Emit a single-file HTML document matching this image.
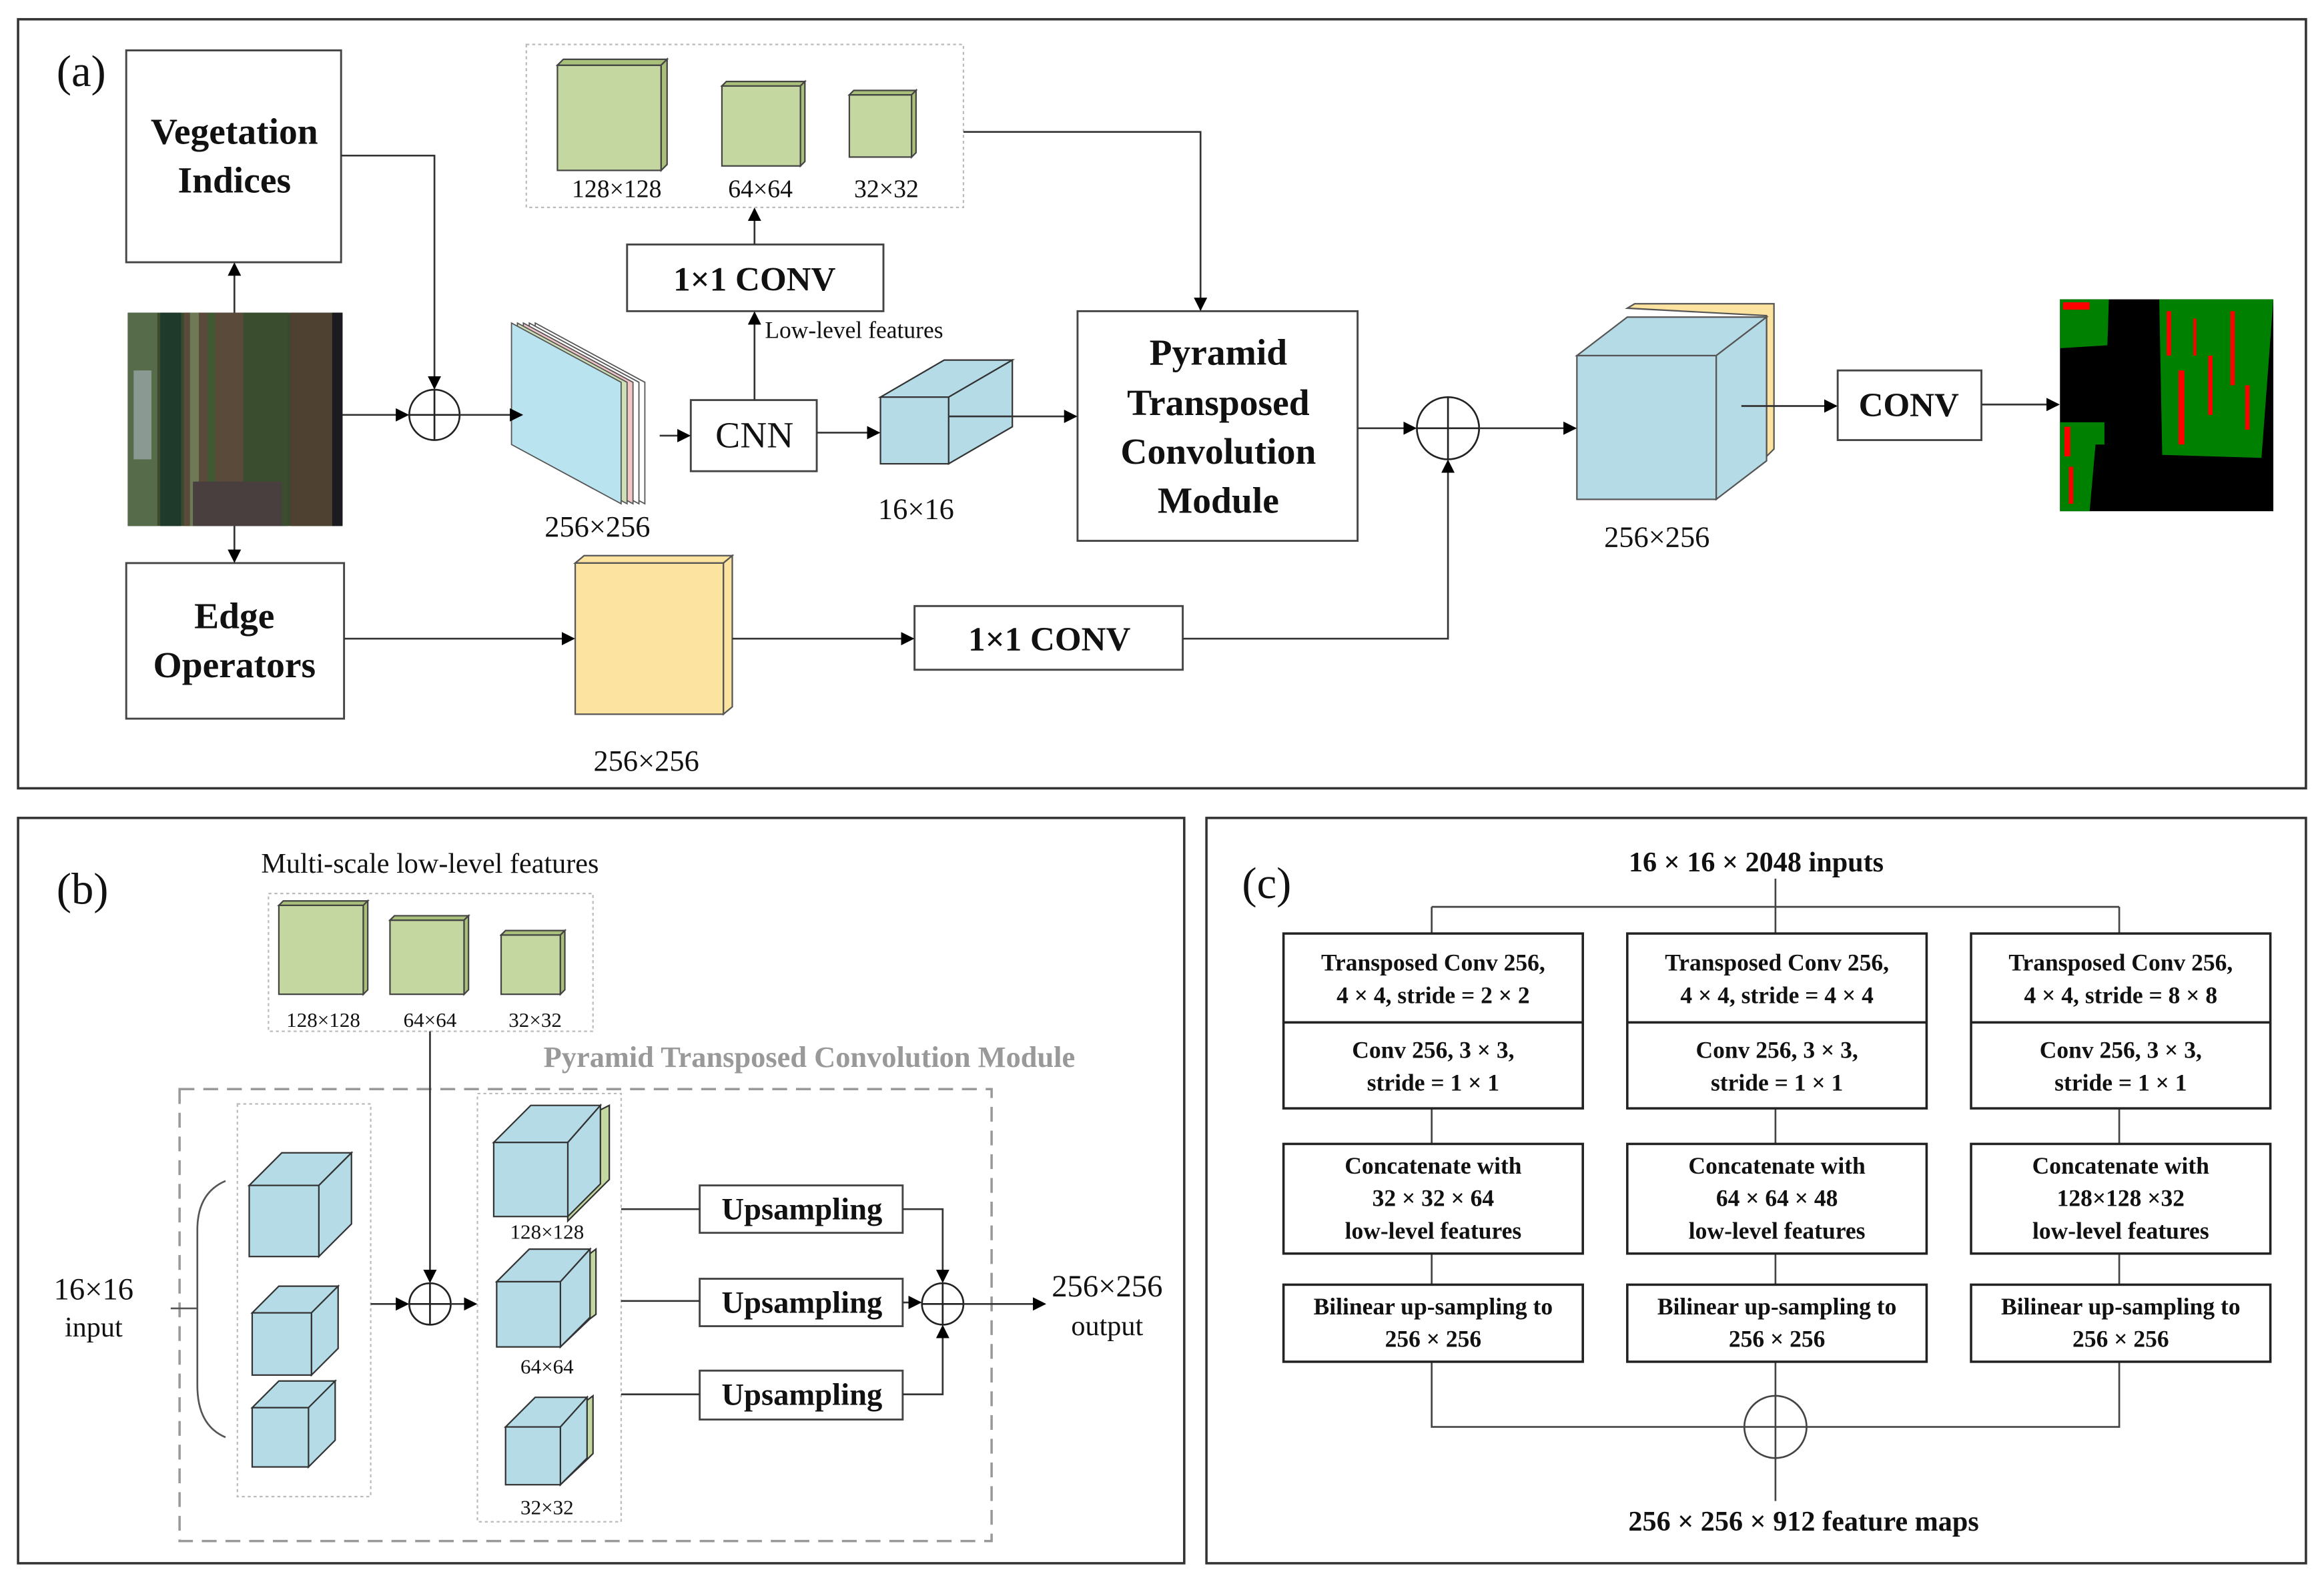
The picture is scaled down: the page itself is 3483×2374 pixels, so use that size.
<!DOCTYPE html>
<html><head><meta charset="utf-8"><style>
html,body{margin:0;padding:0;background:#fff}
svg{display:block}
text{font-family:"Liberation Serif",serif;fill:#111}
.b{font-weight:bold}
</style></head><body>
<svg width="3483" height="2374" viewBox="0 0 1568 1069" xmlns="http://www.w3.org/2000/svg">
<defs>
<marker id="ar" viewBox="0 0 10 10" refX="9" refY="5" markerWidth="9" markerHeight="9" markerUnits="userSpaceOnUse" orient="auto"><path d="M0,0 L10,5 L0,10 z" fill="#000"/></marker>
</defs>
<rect width="1568" height="1069" fill="#fff"/>
<g fill="none" stroke="#333" stroke-width="1.6">
<rect x="12" y="13" width="1544" height="519"/>
<rect x="12" y="552" width="787" height="503"/>
<rect x="814" y="552" width="742" height="503"/>
</g>

<!-- ===== (a) ===== -->
<text x="38" y="58" font-size="30">(a)</text>
<g fill="#fff" stroke="#444" stroke-width="1.3">
<rect x="85" y="34" width="145" height="143"/>
<rect x="85" y="380" width="147" height="105"/>
<rect x="423" y="165" width="173" height="45"/>
<rect x="466" y="270" width="85" height="48"/>
<rect x="727" y="210" width="189" height="155"/>
<rect x="1240" y="250" width="97" height="47"/>
<rect x="617" y="409" width="181" height="43"/>
</g>
<text class="b" x="158" y="97" font-size="25" text-anchor="middle">Vegetation</text>
<text class="b" x="158" y="130" font-size="25" text-anchor="middle">Indices</text>
<text class="b" x="158" y="424" font-size="25" text-anchor="middle">Edge</text>
<text class="b" x="158" y="457" font-size="25" text-anchor="middle">Operators</text>
<text class="b" x="509" y="196" font-size="23" text-anchor="middle">1×1  CONV</text>
<text x="509" y="302" font-size="25" text-anchor="middle">CNN</text>
<text class="b" x="822" y="246" font-size="25" text-anchor="middle">Pyramid</text>
<text class="b" x="822" y="280" font-size="25" text-anchor="middle">Transposed</text>
<text class="b" x="822" y="313" font-size="25" text-anchor="middle">Convolution</text>
<text class="b" x="822" y="346" font-size="25" text-anchor="middle">Module</text>
<text class="b" x="1288" y="281" font-size="23" text-anchor="middle">CONV</text>
<text class="b" x="708" y="439" font-size="23" text-anchor="middle">1×1  CONV</text>

<!-- input image -->
<rect x="86" y="211" width="145" height="144" fill="#3b4a2c"/>
<rect x="86" y="211" width="20" height="144" fill="#556b4a"/>
<rect x="108" y="211" width="14" height="144" fill="#1f3a2a"/>
<rect x="124" y="211" width="40" height="144" fill="#5a4a3a"/>
<rect x="128" y="211" width="6" height="144" fill="#6e7a55"/>
<rect x="140" y="211" width="5" height="144" fill="#3f5a33"/>
<rect x="164" y="211" width="30" height="144" fill="#3a4d2f"/>
<rect x="196" y="211" width="28" height="144" fill="#4e4132"/>
<rect x="224" y="211" width="7" height="144" fill="#1b1b20"/>
<rect x="90" y="250" width="12" height="60" fill="#8a9a92"/>
<rect x="130" y="325" width="60" height="30" fill="#4a3f3f"/>

<!-- output map -->
<rect x="1390" y="202" width="144" height="143" fill="#000"/>
<polygon points="1390,202 1423,202 1422,233 1390,235" fill="#008000"/>
<polygon points="1390,285 1420,285 1420,300 1414,300 1410,345 1390,345" fill="#008000"/>
<polygon points="1457,202 1534,202 1526,309 1459,307" fill="#008000"/>
<g fill="#f00"><rect x="1392" y="204" width="18" height="5"/><rect x="1393" y="288" width="4" height="20"/><rect x="1396" y="315" width="3" height="25"/><rect x="1470" y="250" width="4" height="50"/><rect x="1490" y="240" width="3" height="40"/><rect x="1505" y="210" width="3" height="50"/><rect x="1515" y="260" width="3" height="30"/><rect x="1480" y="215" width="2" height="25"/><rect x="1462" y="210" width="3" height="30"/></g>

<!-- stacked sheets 256x256 -->
<g stroke="#555" stroke-width="0.8">
<polygon points="361,218 361,300 435,340 435,258" fill="#fff"/>
<polygon points="357,218 357,300 431,340 431,258" fill="#fff"/>
<polygon points="353,218 353,300 427,340 427,258" fill="#f2c6c6"/>
<polygon points="349,218 349,300 423,340 423,258" fill="#cfe0b6"/>
<polygon points="345,218 345,300 419,340 419,258" fill="#b9e3ef"/>
</g>
<text x="403" y="362" font-size="20" text-anchor="middle">256×256</text>

<!-- green cubes (a) -->
<rect x="355" y="30" width="295" height="110" fill="none" stroke="#bbb" stroke-dasharray="2,2"/>
<g stroke="#444" stroke-width="1" fill="#c5d7a0">
<rect x="376" y="44" width="70" height="71"/><polygon points="376,44 380,40 450,40 446,44" fill="#a9c07a"/><polygon points="446,44 450,40 450,111 446,115" fill="#a9c07a"/>
<rect x="487" y="58" width="53" height="54"/><polygon points="487,58 490,55 543,55 540,58" fill="#a9c07a"/><polygon points="540,58 543,55 543,109 540,112" fill="#a9c07a"/>
<rect x="573" y="64" width="42" height="42"/><polygon points="573,64 576,61 618,61 615,64" fill="#a9c07a"/><polygon points="615,64 618,61 618,103 615,106" fill="#a9c07a"/>
</g>
<text x="416" y="133" font-size="17" text-anchor="middle">128×128</text>
<text x="513" y="133" font-size="17" text-anchor="middle">64×64</text>
<text x="598" y="133" font-size="17" text-anchor="middle">32×32</text>
<text x="516" y="228" font-size="16">Low-level features</text>

<!-- 16x16 cube -->
<g stroke="#333" stroke-width="1" fill="#b4dbe6">
<polygon points="594,268 637,243 683,243 640,268"/>
<polygon points="640,268 683,243 683,288 640,313"/>
<rect x="594" y="268" width="46" height="45"/>
</g>
<text x="618" y="350" font-size="20" text-anchor="middle">16×16</text>

<!-- big output cube -->
<g stroke="#555" stroke-width="1">
<polygon points="1098,208 1103,205 1197,205 1197,303 1192,308 1192,213" fill="#fde3a0"/>
<polygon points="1064,240 1098,214 1192,214 1158,240" fill="#b4dbe6"/>
<polygon points="1158,240 1192,214 1192,311 1158,337" fill="#b4dbe6"/>
<rect x="1064" y="240" width="94" height="97" fill="#b4dbe6"/>
</g>
<text x="1118" y="369" font-size="20" text-anchor="middle">256×256</text>

<!-- yellow slab -->
<g stroke="#555" stroke-width="1" fill="#fde3a0">
<polygon points="388,380 394,375 494,375 488,380"/>
<polygon points="488,380 494,375 494,477 488,482"/>
<rect x="388" y="380" width="100" height="102"/>
</g>
<text x="436" y="520" font-size="20" text-anchor="middle">256×256</text>

<!-- circles -->
<g fill="none" stroke="#222" stroke-width="1.2">
<circle cx="293" cy="280" r="17"/><path d="M276,280H310M293,263V297"/>
<circle cx="977" cy="289" r="21"/><path d="M956,289H998M977,268V310"/>
</g>

<!-- connectors (a) -->
<g fill="none" stroke="#333" stroke-width="1.2" marker-end="url(#ar)">
<path d="M158,211V178"/>
<path d="M158,355V379"/>
<path d="M230,105H293V262"/>
<path d="M231,280H275"/>
<path d="M310,280H352"/>
<path d="M445,294H465"/>
<path d="M509,270V211"/>
<path d="M509,165V141"/>
<path d="M650,89H810V209"/>
<path d="M551,292H593"/>
<path d="M640,281H726"/>
<path d="M916,289H955"/>
<path d="M998,289H1063"/>
<path d="M1175,274H1239"/>
<path d="M1337,273H1389"/>
<path d="M232,431H387"/>
<path d="M494,431H616"/>
<path d="M798,431H977V311"/>
</g>

<!-- ===== (b) ===== -->
<text x="38" y="610" font-size="30">(b)</text>
<text x="290" y="589" font-size="19" text-anchor="middle">Multi-scale low-level features</text>
<rect x="181" y="603" width="219" height="93" fill="none" stroke="#bbb" stroke-dasharray="2,2"/>
<g stroke="#444" stroke-width="1" fill="#c5d7a0">
<rect x="188" y="611" width="57" height="60"/><polygon points="188,611 191,608 248,608 245,611" fill="#a9c07a"/><polygon points="245,611 248,608 248,668 245,671" fill="#a9c07a"/>
<rect x="263" y="621" width="50" height="50"/><polygon points="263,621 266,618 316,618 313,621" fill="#a9c07a"/><polygon points="313,621 316,618 316,668 313,671" fill="#a9c07a"/>
<rect x="338" y="631" width="40" height="40"/><polygon points="338,631 341,628 381,628 378,631" fill="#a9c07a"/><polygon points="378,631 381,628 381,668 378,671" fill="#a9c07a"/>
</g>
<text x="218" y="693" font-size="14" text-anchor="middle">128×128</text>
<text x="290" y="693" font-size="14" text-anchor="middle">64×64</text>
<text x="361" y="693" font-size="14" text-anchor="middle">32×32</text>
<text class="b" x="546" y="720" font-size="20" text-anchor="middle" style="fill:#999">Pyramid Transposed Convolution Module</text>
<rect x="121" y="735" width="548" height="305" fill="none" stroke="#999" stroke-width="1.6" stroke-dasharray="10,6"/>
<rect x="160" y="745" width="90" height="265" fill="none" stroke="#bbb" stroke-dasharray="2,2"/>
<rect x="322" y="738" width="97" height="289" fill="none" stroke="#bbb" stroke-dasharray="2,2"/>

<text x="63" y="877" font-size="21" text-anchor="middle">16×16</text>
<text x="63" y="902" font-size="19" text-anchor="middle">input</text>
<path d="M115,883H133M152,797Q133,805 133,830V935Q133,962 152,970" fill="none" stroke="#555" stroke-width="1.2"/>

<g stroke="#333" stroke-width="1" fill="#b4dbe6">
<polygon points="168,800 190,778 237,778 215,800"/><polygon points="215,800 237,778 237,826 215,848"/><rect x="168" y="800" width="47" height="48"/>
<polygon points="170,886 188,868 228,868 210,886"/><polygon points="210,886 228,868 228,910 210,928"/><rect x="170" y="886" width="40" height="42"/>
<polygon points="170,950 188,932 226,932 208,950"/><polygon points="208,950 226,932 226,972 208,990"/><rect x="170" y="950" width="38" height="40"/>
</g>
<g stroke="#333" stroke-width="1">
<polygon points="358,749 405,749 411,746 411,796 405,802 383,824 383,771" fill="#c5d7a0"/>
<polygon points="333,771 358,746 405,746 383,771" fill="#b4dbe6"/><polygon points="383,771 405,746 405,799 383,821" fill="#b4dbe6"/><rect x="333" y="771" width="50" height="50" fill="#b4dbe6"/>
<polygon points="357,846 398,846 402,843 402,887 398,890 378,909 378,865" fill="#c5d7a0"/>
<polygon points="335,865 357,843 398,843 378,865" fill="#b4dbe6"/><polygon points="378,865 398,843 398,889 378,909" fill="#b4dbe6"/><rect x="335" y="865" width="43" height="44" fill="#b4dbe6"/>
<polygon points="361,945 396,945 400,942 400,981 396,985 378,1002 378,963" fill="#c5d7a0"/>
<polygon points="341,963 361,943 396,943 378,963" fill="#b4dbe6"/><polygon points="378,963 396,943 396,984 378,1002" fill="#b4dbe6"/><rect x="341" y="963" width="37" height="39" fill="#b4dbe6"/>
</g>
<text x="369" y="836" font-size="14" text-anchor="middle">128×128</text>
<text x="369" y="927" font-size="14" text-anchor="middle">64×64</text>
<text x="369" y="1022" font-size="14" text-anchor="middle">32×32</text>

<g fill="#fff" stroke="#444" stroke-width="1.3">
<rect x="472" y="800" width="137" height="32"/>
<rect x="472" y="863" width="137" height="32"/>
<rect x="472" y="925" width="137" height="33"/>
</g>
<text class="b" x="541" y="823" font-size="21" text-anchor="middle">Upsampling</text>
<text class="b" x="541" y="886" font-size="21" text-anchor="middle">Upsampling</text>
<text class="b" x="541" y="948" font-size="21" text-anchor="middle">Upsampling</text>
<g fill="none" stroke="#222" stroke-width="1.2">
<circle cx="290" cy="880" r="14"/><path d="M276,880H304M290,866V894"/>
<circle cx="636" cy="880" r="14"/><path d="M622,880H650M636,866V894"/>
</g>
<g fill="none" stroke="#333" stroke-width="1.2">
<path d="M419,816H472M419,878H472M419,941H472"/>
</g>
<g fill="none" stroke="#333" stroke-width="1.2" marker-end="url(#ar)">
<path d="M250,880H275"/>
<path d="M290,696V865"/>
<path d="M304,880H321"/>
<path d="M609,816H636V865"/>
<path d="M609,879H621"/>
<path d="M609,941H636V895"/>
<path d="M650,880H705"/>
</g>
<text x="747" y="875" font-size="21" text-anchor="middle">256×256</text>
<text x="747" y="901" font-size="19" text-anchor="middle">output</text>

<!-- ===== (c) ===== -->
<text x="838" y="606" font-size="30">(c)</text>
<text class="b" x="1185" y="588" font-size="19" text-anchor="middle">16 × 16 × 2048 inputs</text>
<g fill="none" stroke="#444" stroke-width="1.2">
<path d="M1198,593V612M966,612H1430M966,612V630M1198,612V630M1430,612V630"/>
<path d="M966,748V772M1198,748V772M1430,748V772"/>
<path d="M966,846V867M1198,846V867M1430,846V867"/>
<path d="M966,919V963H1430V919M1198,919V1013"/>
<circle cx="1198" cy="963" r="21" fill="#fff"/><path d="M1177,963H1219M1198,942V984"/>
</g>
<g fill="none" stroke="#222" stroke-width="1.6">
<rect x="866" y="630" width="202" height="118"/><path d="M866,690H1068"/>
<rect x="1098" y="630" width="202" height="118"/><path d="M1098,690H1300"/>
<rect x="1330" y="630" width="202" height="118"/><path d="M1330,690H1532"/>
<rect x="866" y="772" width="202" height="74"/>
<rect x="1098" y="772" width="202" height="74"/>
<rect x="1330" y="772" width="202" height="74"/>
<rect x="866" y="867" width="202" height="52"/>
<rect x="1098" y="867" width="202" height="52"/>
<rect x="1330" y="867" width="202" height="52"/>
</g>
<g class="b" font-size="16" text-anchor="middle">
<text x="967" y="655">Transposed Conv 256,</text><text x="967" y="677">4 × 4, stride = 2 × 2</text>
<text x="1199" y="655">Transposed Conv 256,</text><text x="1199" y="677">4 × 4, stride = 4 × 4</text>
<text x="1431" y="655">Transposed Conv 256,</text><text x="1431" y="677">4 × 4, stride = 8 × 8</text>
<text x="967" y="714">Conv 256, 3 × 3,</text><text x="967" y="736">stride = 1 × 1</text>
<text x="1199" y="714">Conv 256, 3 × 3,</text><text x="1199" y="736">stride = 1 × 1</text>
<text x="1431" y="714">Conv 256, 3 × 3,</text><text x="1431" y="736">stride = 1 × 1</text>
<text x="967" y="792">Concatenate with</text><text x="967" y="814">32 × 32 × 64</text><text x="967" y="836">low-level features</text>
<text x="1199" y="792">Concatenate with</text><text x="1199" y="814">64 × 64 × 48</text><text x="1199" y="836">low-level features</text>
<text x="1431" y="792">Concatenate with</text><text x="1431" y="814">128×128 ×32</text><text x="1431" y="836">low-level features</text>
<text x="967" y="887">Bilinear up-sampling to</text><text x="967" y="909">256 × 256</text>
<text x="1199" y="887">Bilinear up-sampling to</text><text x="1199" y="909">256 × 256</text>
<text x="1431" y="887">Bilinear up-sampling to</text><text x="1431" y="909">256 × 256</text>
</g>
<text class="b" x="1217" y="1033" font-size="19" text-anchor="middle">256 × 256 × 912 feature maps</text>
</svg>
</body></html>
